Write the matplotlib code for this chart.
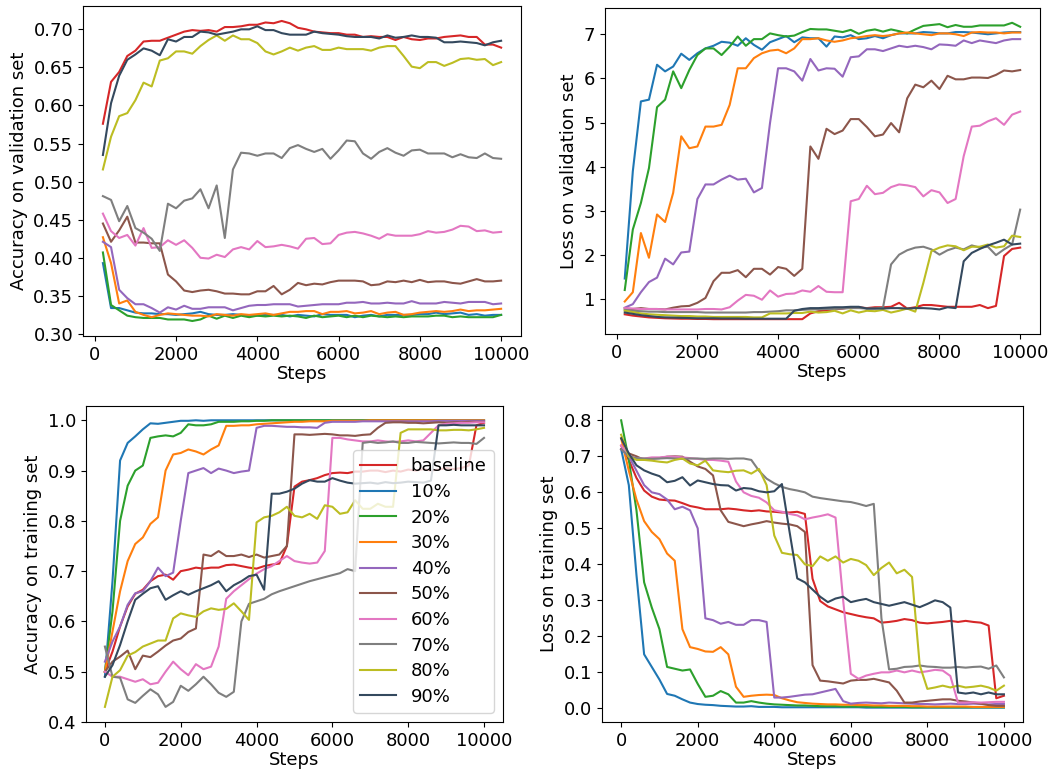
import numpy as np
import matplotlib
matplotlib.use("Agg")
import matplotlib.pyplot as plt

labels = ["baseline", "10%", "20%", "30%", "40%", "50%", "60%", "70%", "80%", "90%"]
colors = ["tab:red", "tab:blue", "tab:green", "tab:orange", "tab:purple",
          "tab:brown", "tab:pink", "tab:gray", "tab:olive", "#34495e"]

val_steps = list(range(200, 10001, 200))
train_steps = list(range(0, 10001, 200))

# ---- accuracy on validation set ----
val_acc = [
    [0.576, 0.631, 0.644, 0.665, 0.672, 0.684, 0.685, 0.685, 0.689, 0.693,
     0.697, 0.699, 0.698, 0.699, 0.697, 0.703, 0.703, 0.704, 0.706, 0.706,
     0.709, 0.708, 0.711, 0.708, 0.702, 0.700, 0.697, 0.696, 0.695, 0.695,
     0.693, 0.693, 0.690, 0.691, 0.690, 0.690, 0.686, 0.690, 0.687, 0.686,
     0.688, 0.688, 0.690, 0.691, 0.692, 0.690, 0.690, 0.680, 0.680, 0.676],
    [0.393, 0.334, 0.334, 0.331, 0.328, 0.327, 0.327, 0.326, 0.326, 0.325,
     0.326, 0.327, 0.329, 0.326, 0.325, 0.325, 0.326, 0.325, 0.324, 0.324,
     0.325, 0.325, 0.325, 0.323, 0.325, 0.324, 0.323, 0.326, 0.325, 0.325,
     0.325, 0.322, 0.324, 0.325, 0.323, 0.325, 0.325, 0.325, 0.325, 0.326,
     0.326, 0.328, 0.326, 0.327, 0.328, 0.325, 0.326, 0.324, 0.325, 0.325],
    [0.407, 0.338, 0.331, 0.324, 0.322, 0.321, 0.321, 0.321, 0.319, 0.319,
     0.319, 0.317, 0.319, 0.324, 0.320, 0.324, 0.321, 0.324, 0.322, 0.324,
     0.323, 0.324, 0.323, 0.324, 0.323, 0.321, 0.324, 0.322, 0.323, 0.324,
     0.322, 0.324, 0.322, 0.324, 0.323, 0.322, 0.323, 0.322, 0.323, 0.323,
     0.323, 0.324, 0.324, 0.322, 0.323, 0.322, 0.322, 0.322, 0.322, 0.325],
    [0.427, 0.393, 0.340, 0.344, 0.329, 0.325, 0.322, 0.325, 0.327, 0.326,
     0.325, 0.324, 0.324, 0.323, 0.326, 0.325, 0.324, 0.326, 0.325, 0.326,
     0.327, 0.325, 0.327, 0.329, 0.329, 0.330, 0.330, 0.326, 0.329, 0.329,
     0.330, 0.327, 0.328, 0.330, 0.326, 0.328, 0.329, 0.325, 0.326, 0.328,
     0.329, 0.330, 0.329, 0.330, 0.332, 0.330, 0.331, 0.331, 0.332, 0.333],
    [0.421, 0.414, 0.358, 0.347, 0.339, 0.339, 0.334, 0.328, 0.335, 0.332,
     0.337, 0.333, 0.333, 0.335, 0.335, 0.335, 0.331, 0.334, 0.337, 0.338,
     0.338, 0.339, 0.339, 0.339, 0.336, 0.337, 0.338, 0.339, 0.339, 0.339,
     0.341, 0.341, 0.342, 0.340, 0.340, 0.341, 0.340, 0.340, 0.343, 0.340,
     0.340, 0.340, 0.342, 0.341, 0.340, 0.342, 0.342, 0.342, 0.339, 0.340],
    [0.445, 0.421, 0.436, 0.454, 0.420, 0.420, 0.419, 0.419, 0.378, 0.369,
     0.357, 0.355, 0.357, 0.358, 0.356, 0.353, 0.353, 0.352, 0.352, 0.356,
     0.356, 0.363, 0.352, 0.358, 0.367, 0.364, 0.366, 0.365, 0.368, 0.370,
     0.370, 0.370, 0.369, 0.364, 0.365, 0.369, 0.368, 0.370, 0.368, 0.371,
     0.368, 0.369, 0.369, 0.367, 0.366, 0.369, 0.372, 0.369, 0.369, 0.370],
    [0.458, 0.435, 0.426, 0.430, 0.416, 0.439, 0.413, 0.414, 0.423, 0.417,
     0.423, 0.413, 0.400, 0.399, 0.404, 0.401, 0.411, 0.414, 0.411, 0.422,
     0.414, 0.415, 0.417, 0.415, 0.412, 0.425, 0.426, 0.418, 0.419, 0.430,
     0.433, 0.434, 0.432, 0.429, 0.425, 0.431, 0.429, 0.429, 0.429, 0.431,
     0.435, 0.433, 0.434, 0.437, 0.442, 0.441, 0.435, 0.436, 0.433, 0.434],
    [0.481, 0.476, 0.448, 0.468, 0.439, 0.433, 0.425, 0.409, 0.471, 0.465,
     0.475, 0.478, 0.490, 0.465, 0.495, 0.426, 0.516, 0.538, 0.537, 0.534,
     0.537, 0.537, 0.531, 0.544, 0.548, 0.543, 0.539, 0.543, 0.530, 0.541,
     0.554, 0.553, 0.537, 0.530, 0.539, 0.544, 0.538, 0.534, 0.541, 0.542,
     0.537, 0.537, 0.537, 0.532, 0.536, 0.532, 0.531, 0.537, 0.531, 0.530],
    [0.516, 0.559, 0.586, 0.590, 0.607, 0.630, 0.625, 0.659, 0.662, 0.671,
     0.671, 0.668, 0.678, 0.686, 0.692, 0.685, 0.692, 0.687, 0.687, 0.682,
     0.671, 0.667, 0.671, 0.676, 0.672, 0.676, 0.678, 0.673, 0.673, 0.676,
     0.674, 0.674, 0.674, 0.672, 0.676, 0.678, 0.678, 0.665, 0.651, 0.649,
     0.657, 0.657, 0.652, 0.656, 0.661, 0.662, 0.660, 0.661, 0.653, 0.657],
    [0.535, 0.603, 0.639, 0.660, 0.667, 0.675, 0.672, 0.666, 0.687, 0.684,
     0.690, 0.690, 0.697, 0.696, 0.693, 0.695, 0.697, 0.700, 0.700, 0.704,
     0.699, 0.699, 0.695, 0.693, 0.693, 0.693, 0.697, 0.695, 0.694, 0.693,
     0.691, 0.690, 0.690, 0.690, 0.688, 0.692, 0.689, 0.690, 0.692, 0.690,
     0.690, 0.689, 0.683, 0.683, 0.684, 0.683, 0.682, 0.679, 0.683, 0.685],
]

# ---- loss on validation set ----
val_loss = [
    [0.66, 0.63, 0.61, 0.59, 0.58, 0.57, 0.565, 0.56, 0.56, 0.555,
     0.555, 0.55, 0.55, 0.55, 0.55, 0.55, 0.55, 0.55, 0.55, 0.55,
     0.55, 0.55, 0.55, 0.68, 0.73, 0.75, 0.77, 0.79, 0.82, 0.82,
     0.80, 0.82, 0.82, 0.83, 0.92, 0.79, 0.82, 0.87, 0.87, 0.85,
     0.83, 0.83, 0.83, 0.83, 0.87, 0.80, 0.85, 1.98, 2.14, 2.17],
    [1.47, 3.9, 5.48, 5.52, 6.31, 6.16, 6.27, 6.56, 6.42, 6.57,
     6.68, 6.74, 6.83, 6.81, 6.74, 6.91, 6.76, 6.65, 6.82, 6.89,
     6.96, 6.82, 6.93, 6.91, 6.91, 6.72, 6.95, 6.93, 6.98, 6.89,
     6.91, 6.96, 6.91, 6.98, 7.02, 7.02, 7.02, 7.05, 7.04, 7.02,
     7.02, 7.05, 7.05, 7.04, 7.02, 7.00, 7.02, 7.04, 7.05, 7.05],
    [1.21, 2.58, 3.18, 3.97, 5.35, 5.52, 6.16, 5.78, 6.19, 6.53,
     6.68, 6.68, 6.53, 6.72, 6.95, 6.74, 6.89, 6.89, 7.02, 6.98,
     6.95, 6.97, 7.05, 7.12, 7.11, 7.11, 7.08, 7.05, 7.10, 7.01,
     7.08, 7.11, 7.06, 7.11, 7.07, 7.02, 7.11, 7.19, 7.21, 7.23,
     7.16, 7.21, 7.17, 7.17, 7.20, 7.20, 7.20, 7.20, 7.26, 7.17],
    [0.95, 1.16, 2.50, 1.94, 2.92, 2.75, 3.41, 4.69, 4.42, 4.46,
     4.91, 4.91, 4.95, 5.40, 6.23, 6.23, 6.46, 6.57, 6.63, 6.65,
     6.57, 6.68, 6.89, 6.89, 6.91, 6.86, 6.83, 6.86, 6.91, 6.93,
     6.96, 6.98, 6.96, 6.98, 7.02, 7.04, 7.02, 7.00, 6.98, 7.02,
     7.02, 7.00, 6.96, 7.04, 7.05, 7.04, 7.04, 7.02, 7.04, 7.04],
    [0.81, 0.89, 1.16, 1.39, 1.49, 1.92, 1.79, 2.06, 2.08, 3.27,
     3.60, 3.60, 3.71, 3.80, 3.71, 3.73, 3.42, 3.52, 4.99, 6.23,
     6.23, 6.16, 5.95, 6.44, 6.18, 6.23, 6.22, 6.04, 6.48, 6.50,
     6.66, 6.66, 6.62, 6.68, 6.74, 6.71, 6.74, 6.71, 6.66, 6.77,
     6.76, 6.74, 6.86, 6.80, 6.86, 6.83, 6.80, 6.86, 6.89, 6.89],
    [0.79, 0.78, 0.80, 0.78, 0.78, 0.77, 0.81, 0.84, 0.85, 0.92,
     1.03, 1.41, 1.60, 1.60, 1.66, 1.50, 1.69, 1.69, 1.56, 1.73,
     1.69, 1.53, 1.69, 4.46, 4.18, 4.86, 4.74, 4.82, 5.08, 5.08,
     4.90, 4.69, 4.73, 4.99, 4.78, 5.55, 5.86, 5.80, 5.95, 5.76,
     6.06, 5.98, 5.98, 6.02, 6.02, 6.01, 6.08, 6.18, 6.16, 6.19],
    [0.80, 0.79, 0.78, 0.78, 0.78, 0.77, 0.77, 0.77, 0.77, 0.77,
     0.78, 0.78, 0.77, 0.82, 0.97, 1.10, 1.08, 0.99, 1.20, 1.06,
     1.12, 1.13, 1.20, 1.17, 1.30, 1.17, 1.16, 1.16, 3.22, 3.27,
     3.57, 3.38, 3.41, 3.54, 3.60, 3.58, 3.54, 3.33, 3.47, 3.42,
     3.18, 3.27, 4.24, 4.91, 4.93, 5.03, 5.10, 4.95, 5.18, 5.25],
    [0.76, 0.74, 0.73, 0.72, 0.72, 0.71, 0.71, 0.71, 0.71, 0.71,
     0.70, 0.70, 0.70, 0.70, 0.70, 0.70, 0.71, 0.71, 0.72, 0.73,
     0.75, 0.75, 0.76, 0.77, 0.77, 0.78, 0.78, 0.79, 0.80, 0.80,
     0.79, 0.79, 0.81, 1.79, 2.01, 2.11, 2.17, 2.19, 2.13, 2.01,
     2.11, 2.17, 2.13, 2.22, 2.17, 2.19, 2.00, 2.13, 2.24, 3.03],
    [0.74, 0.71, 0.68, 0.66, 0.65, 0.64, 0.63, 0.62, 0.62, 0.61,
     0.61, 0.60, 0.60, 0.60, 0.60, 0.60, 0.59, 0.59, 0.68, 0.68,
     0.68, 0.69, 0.69, 0.72, 0.70, 0.71, 0.74, 0.68, 0.75, 0.70,
     0.74, 0.73, 0.76, 0.70, 0.74, 0.79, 0.72, 1.37, 2.09, 2.17,
     2.22, 2.20, 2.11, 2.19, 2.19, 2.24, 2.17, 2.20, 2.44, 2.41],
    [0.70, 0.67, 0.64, 0.62, 0.60, 0.59, 0.585, 0.58, 0.575, 0.57,
     0.57, 0.57, 0.565, 0.565, 0.565, 0.56, 0.56, 0.56, 0.56, 0.56,
     0.56, 0.74, 0.78, 0.80, 0.80, 0.81, 0.82, 0.82, 0.83, 0.83,
     0.79, 0.79, 0.79, 0.80, 0.80, 0.79, 0.80, 0.80, 0.79, 0.77,
     0.82, 0.80, 1.86, 2.05, 2.14, 2.22, 2.28, 2.35, 2.24, 2.26],
]

# ---- accuracy on training set ----
train_acc = [
    [0.50, 0.54, 0.59, 0.63, 0.655, 0.663, 0.68, 0.69, 0.693, 0.683,
     0.70, 0.703, 0.707, 0.705, 0.707, 0.707, 0.712, 0.713, 0.71, 0.707,
     0.705, 0.71, 0.713, 0.715, 0.75, 0.868, 0.878, 0.881, 0.885, 0.891,
     0.895, 0.896, 0.895, 0.898, 0.898, 0.90, 0.90, 0.897, 0.90, 0.898,
     0.902, 0.90, 0.903, 0.90, 0.902, 0.905, 0.903, 0.905, 0.91, 0.99,
     0.995],
    [0.49, 0.68, 0.92, 0.955, 0.968, 0.982, 0.994, 0.993, 0.995, 0.997,
     0.999, 0.999, 1.0, 0.999, 1.0, 1.0, 1.0, 1.0, 1.0, 1.0,
     1.0, 1.0, 1.0, 1.0, 1.0, 1.0, 1.0, 1.0, 1.0, 1.0,
     1.0, 1.0, 1.0, 1.0, 1.0, 1.0, 1.0, 1.0, 1.0, 1.0,
     1.0, 1.0, 1.0, 1.0, 1.0, 1.0, 1.0, 1.0, 1.0, 1.0,
     1.0],
    [0.50, 0.62, 0.80, 0.87, 0.90, 0.91, 0.965, 0.968, 0.97, 0.968,
     0.975, 0.992, 0.99, 0.99, 0.992, 0.997, 0.997, 0.997, 0.998, 0.998,
     0.999, 0.999, 1.0, 1.0, 1.0, 1.0, 1.0, 1.0, 1.0, 1.0,
     1.0, 1.0, 1.0, 1.0, 1.0, 1.0, 1.0, 1.0, 1.0, 1.0,
     1.0, 1.0, 1.0, 1.0, 1.0, 1.0, 1.0, 1.0, 1.0, 1.0,
     1.0],
    [0.50, 0.58, 0.66, 0.72, 0.754, 0.767, 0.794, 0.807, 0.90, 0.932,
     0.935, 0.942, 0.938, 0.932, 0.942, 0.95, 0.989, 0.989, 0.99, 0.99,
     0.992, 0.993, 0.994, 0.995, 0.996, 0.997, 0.997, 0.998, 0.998, 0.998,
     0.999, 0.999, 0.999, 0.999, 0.999, 1.0, 1.0, 1.0, 1.0, 1.0,
     1.0, 1.0, 1.0, 1.0, 1.0, 1.0, 1.0, 1.0, 1.0, 1.0,
     1.0],
    [0.52, 0.56, 0.59, 0.633, 0.656, 0.66, 0.68, 0.707, 0.69, 0.697,
     0.80, 0.895, 0.90, 0.905, 0.895, 0.904, 0.90, 0.895, 0.898, 0.90,
     0.985, 0.989, 0.989, 0.988, 0.987, 0.987, 0.986, 0.986, 0.985, 0.995,
     0.997, 0.997, 0.997, 0.997, 0.998, 0.998, 0.998, 0.998, 0.998, 0.998,
     0.998, 0.998, 0.998, 0.998, 0.999, 0.999, 0.999, 0.999, 0.999, 0.999,
     0.999],
    [0.50, 0.52, 0.53, 0.542, 0.505, 0.532, 0.529, 0.54, 0.552, 0.562,
     0.566, 0.579, 0.586, 0.733, 0.73, 0.74, 0.73, 0.73, 0.733, 0.728,
     0.733, 0.727, 0.73, 0.733, 0.75, 0.972, 0.972, 0.971, 0.972, 0.973,
     0.972, 0.97, 0.97, 0.969, 0.971, 0.972, 0.985, 0.995, 0.996, 0.996,
     0.995, 0.995, 0.994, 0.995, 0.996, 0.995, 0.996, 0.996, 0.997, 0.997,
     0.997],
    [0.50, 0.49, 0.49, 0.485, 0.48, 0.485, 0.475, 0.478, 0.50, 0.52,
     0.505, 0.493, 0.515, 0.505, 0.51, 0.55, 0.645, 0.66, 0.672, 0.684,
     0.695, 0.704, 0.71, 0.72, 0.73, 0.72, 0.717, 0.715, 0.717, 0.74,
     0.965, 0.965, 0.962, 0.96, 0.958, 0.958, 0.96, 0.958, 0.957, 0.958,
     0.96, 0.958, 0.96, 0.975, 0.99, 0.993, 0.994, 0.995, 0.995, 0.996,
     0.996],
    [0.55, 0.49, 0.488, 0.445, 0.438, 0.452, 0.465, 0.455, 0.43, 0.44,
     0.472, 0.462, 0.475, 0.49, 0.475, 0.458, 0.45, 0.46, 0.60, 0.635,
     0.64, 0.645, 0.654, 0.66, 0.665, 0.67, 0.675, 0.68, 0.684, 0.688,
     0.692, 0.696, 0.704, 0.70, 0.955, 0.957, 0.955, 0.956, 0.958, 0.955,
     0.955, 0.957, 0.956, 0.955, 0.954, 0.955, 0.956, 0.955, 0.955, 0.953,
     0.965],
    [0.43, 0.49, 0.503, 0.532, 0.539, 0.55, 0.556, 0.562, 0.562, 0.606,
     0.616, 0.612, 0.609, 0.62, 0.626, 0.623, 0.625, 0.636, 0.62, 0.603,
     0.797, 0.807, 0.81, 0.817, 0.828, 0.81, 0.807, 0.814, 0.804, 0.831,
     0.828, 0.814, 0.817, 0.841, 0.824, 0.824, 0.834, 0.828, 0.828, 0.975,
     0.982, 0.982, 0.982, 0.982, 0.98, 0.98, 0.981, 0.981, 0.98, 0.982,
     0.985],
    [0.49, 0.513, 0.553, 0.60, 0.643, 0.655, 0.666, 0.67, 0.643, 0.652,
     0.66, 0.653, 0.66, 0.666, 0.672, 0.68, 0.66, 0.672, 0.68, 0.69,
     0.693, 0.663, 0.854, 0.854, 0.858, 0.864, 0.874, 0.881, 0.878, 0.878,
     0.885, 0.88, 0.876, 0.874, 0.875, 0.876, 0.874, 0.877, 0.875, 0.876,
     0.878, 0.877, 0.876, 0.88, 0.99, 0.99, 0.991, 0.99, 0.99, 0.99,
     0.99],
]

# ---- loss on training set ----
train_loss = [
    [0.73, 0.69, 0.64, 0.605, 0.588, 0.58, 0.578, 0.577, 0.57, 0.562,
     0.558, 0.553, 0.553, 0.553, 0.555, 0.553, 0.55, 0.548, 0.55, 0.547,
     0.546, 0.544, 0.544, 0.546, 0.54, 0.36, 0.298, 0.283, 0.275, 0.267,
     0.262, 0.257, 0.253, 0.25, 0.238, 0.24, 0.243, 0.248, 0.245, 0.238,
     0.236, 0.238, 0.24, 0.243, 0.24, 0.243, 0.24, 0.238, 0.23, 0.028,
     0.035],
    [0.72, 0.62, 0.37, 0.15, 0.115, 0.08, 0.04, 0.035, 0.025, 0.016,
     0.012, 0.01, 0.009, 0.007, 0.006, 0.005, 0.005, 0.006, 0.004, 0.004,
     0.004, 0.003, 0.003, 0.003, 0.003, 0.003, 0.003, 0.003, 0.003, 0.003,
     0.003, 0.003, 0.002, 0.002, 0.002, 0.002, 0.002, 0.002, 0.002, 0.002,
     0.002, 0.002, 0.002, 0.002, 0.002, 0.002, 0.002, 0.002, 0.002, 0.002,
     0.002],
    [0.80, 0.69, 0.55, 0.35, 0.28, 0.22, 0.115, 0.11, 0.105, 0.108,
     0.068, 0.032, 0.035, 0.048, 0.039, 0.016, 0.016, 0.02, 0.016, 0.013,
     0.011, 0.01, 0.009, 0.008, 0.008, 0.007, 0.006, 0.006, 0.006, 0.005,
     0.005, 0.005, 0.005, 0.004, 0.004, 0.004, 0.004, 0.004, 0.003, 0.003,
     0.003, 0.003, 0.003, 0.003, 0.003, 0.003, 0.003, 0.003, 0.003, 0.003,
     0.003],
    [0.75, 0.66, 0.58, 0.52, 0.49, 0.47, 0.43, 0.41, 0.22, 0.17,
     0.165, 0.158, 0.157, 0.17, 0.15, 0.06, 0.032, 0.035, 0.037, 0.038,
     0.037, 0.028, 0.022, 0.017, 0.015, 0.013, 0.012, 0.011, 0.011, 0.01,
     0.01, 0.009, 0.009, 0.008, 0.008, 0.007, 0.007, 0.007, 0.006, 0.006,
     0.005, 0.005, 0.005, 0.005, 0.005, 0.005, 0.004, 0.004, 0.004, 0.004,
     0.004],
    [0.72, 0.70, 0.66, 0.62, 0.60, 0.595, 0.58, 0.553, 0.56, 0.55,
     0.50, 0.25, 0.245, 0.235, 0.24, 0.232, 0.232, 0.245, 0.245, 0.24,
     0.03, 0.03, 0.032, 0.035, 0.038, 0.039, 0.044, 0.049, 0.054, 0.02,
     0.013, 0.015, 0.016, 0.015, 0.014, 0.016, 0.015, 0.014, 0.013, 0.012,
     0.012, 0.011, 0.012, 0.013, 0.012, 0.012, 0.013, 0.012, 0.011, 0.012,
     0.012],
    [0.72, 0.708, 0.70, 0.69, 0.694, 0.695, 0.699, 0.70, 0.699, 0.685,
     0.672, 0.665, 0.647, 0.55, 0.518, 0.512, 0.506, 0.511, 0.515, 0.52,
     0.516, 0.513, 0.511, 0.506, 0.49, 0.12, 0.077, 0.075, 0.072, 0.069,
     0.077, 0.079, 0.079, 0.082, 0.077, 0.072, 0.049, 0.016, 0.016, 0.019,
     0.021, 0.023, 0.025, 0.025, 0.021, 0.019, 0.016, 0.013, 0.009, 0.007,
     0.007],
    [0.73, 0.70, 0.695, 0.694, 0.697, 0.697, 0.699, 0.699, 0.697, 0.695,
     0.693, 0.69, 0.69, 0.688, 0.685, 0.63, 0.60, 0.59, 0.585, 0.572,
     0.55, 0.546, 0.54, 0.536, 0.525, 0.53, 0.534, 0.539, 0.53, 0.30,
     0.096, 0.082, 0.091, 0.096, 0.10, 0.10, 0.105, 0.10, 0.105, 0.10,
     0.103, 0.107, 0.105, 0.09, 0.016, 0.016, 0.017, 0.016, 0.017, 0.018,
     0.018],
    [0.72, 0.70, 0.695, 0.694, 0.693, 0.694, 0.695, 0.694, 0.693, 0.694,
     0.694, 0.693, 0.694, 0.694, 0.693, 0.694, 0.694, 0.69, 0.66, 0.638,
     0.625, 0.615, 0.609, 0.605, 0.60, 0.588, 0.584, 0.581, 0.578, 0.575,
     0.573, 0.568, 0.562, 0.568, 0.25, 0.108, 0.11, 0.115, 0.116, 0.119,
     0.116, 0.115, 0.113, 0.113, 0.115, 0.113, 0.115, 0.116, 0.11, 0.119,
     0.086],
    [0.76, 0.70, 0.69, 0.69, 0.688, 0.685, 0.683, 0.69, 0.694, 0.68,
     0.675, 0.688, 0.661, 0.658, 0.656, 0.66, 0.661, 0.652, 0.665, 0.62,
     0.48, 0.432, 0.428, 0.426, 0.40, 0.395, 0.422, 0.41, 0.422, 0.405,
     0.415, 0.41, 0.398, 0.37, 0.39, 0.405, 0.375, 0.385, 0.365, 0.12,
     0.054, 0.058, 0.063, 0.058, 0.063, 0.058, 0.06, 0.063, 0.058, 0.049,
     0.063],
    [0.75, 0.708, 0.675, 0.661, 0.652, 0.645, 0.628, 0.632, 0.642, 0.619,
     0.633, 0.628, 0.623, 0.62, 0.619, 0.605, 0.612, 0.61, 0.603, 0.60,
     0.603, 0.623, 0.49, 0.361, 0.35, 0.33, 0.31, 0.295, 0.305, 0.31,
     0.295, 0.30, 0.304, 0.295, 0.29, 0.285, 0.29, 0.295, 0.288, 0.281,
     0.29, 0.30, 0.295, 0.28, 0.044, 0.041, 0.044, 0.039, 0.044, 0.039,
     0.039],
]

plt.rcParams["font.size"] = 13

fig = plt.figure(figsize=(10.56, 7.74), dpi=100)
ax1 = fig.add_axes([0.0786, 0.5659, 0.4148, 0.4264])
ax2 = fig.add_axes([0.5729, 0.5685, 0.4119, 0.4212])
ax3 = fig.add_axes([0.0814, 0.0672, 0.3949, 0.4083])
ax4 = fig.add_axes([0.5701, 0.0672, 0.3987, 0.4083])

panels = [
    (ax1, val_steps, val_acc, "Accuracy on validation set"),
    (ax2, val_steps, val_loss, "Loss on validation set"),
    (ax3, train_steps, train_acc, "Accuracy on training set"),
    (ax4, train_steps, train_loss, "Loss on training set"),
]

for ax, steps, series, ylabel in panels:
    for i in range(len(labels)):
        ax.plot(steps, series[i], color=colors[i], linewidth=1.5, label=labels[i])
    ax.set_xlabel("Steps", labelpad=1)
    ax.set_ylabel(ylabel)
    ax.set_xticks([0, 2000, 4000, 6000, 8000, 10000])

ax1.set_yticks(np.arange(0.30, 0.701, 0.05))
ax1.yaxis.set_major_formatter(matplotlib.ticker.FormatStrFormatter("%.2f"))
ax2.set_yticks([1, 2, 3, 4, 5, 6, 7])
ax3.set_yticks([0.4, 0.5, 0.6, 0.7, 0.8, 0.9, 1.0])
ax4.set_yticks([0.0, 0.1, 0.2, 0.3, 0.4, 0.5, 0.6, 0.7, 0.8])

ax3.legend(loc="lower right", fontsize=13, labelspacing=0.42)

fig.savefig("out.png", dpi=100)
